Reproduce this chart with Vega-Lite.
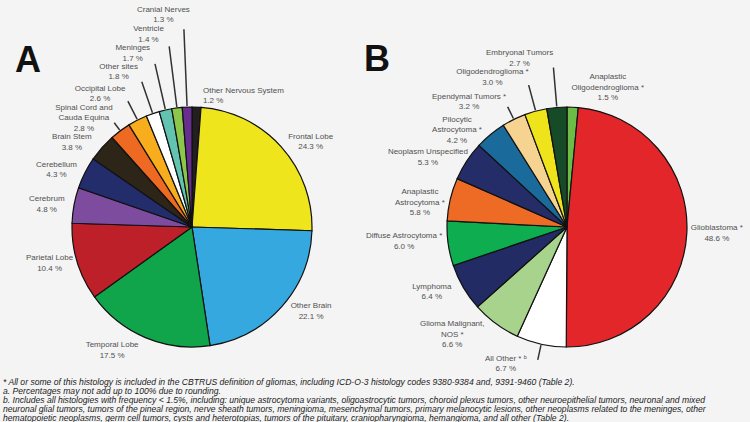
{
  "$schema": "https://vega.github.io/schema/vega-lite/v6.json",
  "background": "#f4f4f4",
  "padding": 0,
  "spacing": 0,
  "bounds": "flush",
  "config": {
    "view": {"stroke": null},
    "font": "Liberation Sans",
    "text": {"fontSize": 8, "lineHeight": 10.5, "lineBreak": "\n", "fill": "#505050", "baseline": "middle", "align": "center", "font": "Liberation Sans"}
  },
  "title": {
    "text": [
      "* All or some of this histology is included in the CBTRUS definition of gliomas, including ICD-O-3 histology codes 9380-9384 and, 9391-9460 (Table 2).",
      "a. Percentages may not add up to 100% due to rounding.",
      "b. Includes all histologies with frequency < 1.5%, including: unique astrocytoma variants, oligoastrocytic tumors, choroid plexus tumors, other neuroepithelial tumors, neuronal and mixed",
      "neuronal glial tumors, tumors of the pineal region, nerve sheath tumors, meningioma, mesenchymal tumors, primary melanocytic lesions, other neoplasms related to the meninges, other",
      "hematopoietic  neoplasms, germ cell tumors, cysts and heterotopias, tumors of the pituitary, craniopharyngioma, hemangioma, and all other (Table 2)."
    ],
    "orient": "bottom",
    "anchor": "start",
    "offset": -1.5,
    "dx": 3,
    "font": "Liberation Sans",
    "fontSize": 8.6,
    "fontStyle": "italic",
    "fontWeight": "normal",
    "color": "#222222",
    "lineHeight": 9
  },
  "resolve": {"scale": {"color": "independent", "theta": "independent", "radius": "independent"}},
  "hconcat": [
    {
      "width": 384,
      "height": 304,
      "title": {"text": "A", "anchor": "start", "frame": "group", "fontSize": 36, "fontWeight": "bold", "color": "#111111", "dx": 15, "offset": -80, "font": "Liberation Sans"},
      "data": {"values": [
        {"site": "Other Nervous System", "pct": 1.2, "label": "Other Nervous System\n1.2 %"},
        {"site": "Frontal Lobe", "pct": 24.3, "label": "Frontal Lobe\n24.3 %"},
        {"site": "Other Brain", "pct": 22.1, "label": "Other Brain\n22.1 %"},
        {"site": "Temporal Lobe", "pct": 17.5, "label": "Temporal Lobe\n17.5 %"},
        {"site": "Parietal Lobe", "pct": 10.4, "label": "Parietal Lobe\n10.4 %"},
        {"site": "Cerebrum", "pct": 4.8, "label": "Cerebrum\n4.8 %"},
        {"site": "Cerebellum", "pct": 4.3, "label": "Cerebellum\n4.3 %"},
        {"site": "Brain Stem", "pct": 3.8, "label": "Brain Stem\n3.8 %"},
        {"site": "Spinal Cord and Cauda Equina", "pct": 2.8, "label": "Spinal Cord and\nCauda Equina\n2.8 %"},
        {"site": "Occipital Lobe", "pct": 2.6, "label": "Occipital Lobe\n2.6 %"},
        {"site": "Other sites", "pct": 1.8, "label": "Other sites\n1.8 %"},
        {"site": "Meninges", "pct": 1.7, "label": "Meninges\n1.7 %"},
        {"site": "Ventricle", "pct": 1.4, "label": "Ventricle\n1.4 %"},
        {"site": "Cranial Nerves", "pct": 1.3, "label": "Cranial Nerves\n1.3 %"}
      ]},
      "transform": [
        {"window": [{"op": "row_number", "as": "idx"}]},
        {"stack": "pct", "groupby": [], "sort": [{"field": "idx", "order": "ascending"}], "as": ["t0", "t1"]}
      ],
      "resolve": {"scale": {"theta": "independent", "radius": "independent"}},
      "layer": [
        {
          "mark": {"type": "arc", "outerRadius": 120, "stroke": "#111111", "strokeWidth": 1.2},
          "encoding": {
            "theta": {"field": "pct", "type": "quantitative", "stack": true, "scale": {"domain": [0, 100]}},
            "order": {"field": "idx", "type": "quantitative"},
            "color": {"field": "site", "type": "nominal", "legend": null, "scale": {
              "domain": ["Other Nervous System", "Frontal Lobe", "Other Brain", "Temporal Lobe", "Parietal Lobe", "Cerebrum", "Cerebellum", "Brain Stem", "Spinal Cord and Cauda Equina", "Occipital Lobe", "Other sites", "Meninges", "Ventricle", "Cranial Nerves"],
              "range": ["#231f20", "#efe51c", "#34a8df", "#10a54a", "#bd2029", "#7d4c9f", "#242d6c", "#2c2518", "#ee6a23", "#f8ae1c", "#ffffff", "#62c3b0", "#8cc74c", "#672e8f"]
            }}
          }
        },
        {
          "mark": {"type": "text", "radius": 146, "dy": -5.25},
          "encoding": {
            "theta": {"field": "pct", "type": "quantitative", "stack": true, "scale": {"domain": [0, 100], "range": [0.235619, 5.576327]}},
            "order": {"field": "idx", "type": "quantitative"},
            "text": {"condition": {"test": "datum.idx == 2 || datum.idx == 3", "field": "label", "type": "nominal"}, "value": ""}
          }
        },
        {
          "mark": {"type": "text", "radius": 147, "dy": -5.25},
          "encoding": {
            "theta": {"field": "pct", "type": "quantitative", "stack": true, "scale": {"domain": [0, 100], "range": [0.706858, 6.047566]}},
            "order": {"field": "idx", "type": "quantitative"},
            "text": {"condition": {"test": "datum.idx >= 4 && datum.idx <= 8", "field": "label", "type": "nominal"}, "value": ""}
          }
        },
        {
          "mark": {"type": "text", "dy": -5.25},
          "encoding": {
            "theta": {"field": "t0", "type": "quantitative", "stack": null, "scale": {"domain": [0, 100], "range": [-0.0523599, 6.230825]}},
            "radius": {"field": "idx", "type": "quantitative", "scale": {"type": "pow", "exponent": 3, "zero": false, "domain": [9, 14], "range": [153.5, 214]}},
            "text": {"condition": {"test": "datum.idx >= 10", "field": "label", "type": "nominal"}, "value": ""}
          }
        },
        {
          "mark": {"type": "text", "dy": -10.5},
          "encoding": {
            "theta": {"field": "t0", "type": "quantitative", "stack": null, "scale": {"domain": [0, 100], "range": [-0.0523599, 6.230825]}},
            "radius": {"field": "idx", "type": "quantitative", "scale": {"type": "pow", "exponent": 3, "zero": false, "domain": [9, 14], "range": [153.5, 214]}},
            "text": {"condition": {"test": "datum.idx == 9", "field": "label", "type": "nominal"}, "value": ""}
          }
        },
        {
          "mark": {"type": "arc", "innerRadius": 121, "padAngle": 2, "filled": false, "stroke": "#333333", "strokeWidth": 1.5},
          "encoding": {
            "theta": {"field": "t0", "type": "quantitative", "stack": null, "scale": {"domain": [0, 100]}},
            "theta2": {"field": "t1"},
            "radius": {"field": "idx", "type": "quantitative", "scale": {"type": "pow", "exponent": 2, "zero": false, "domain": [9, 14], "range": [130, 198]}},
            "opacity": {"condition": {"test": "datum.idx >= 9", "value": 1}, "value": 0}
          }
        },
        {
          "mark": {"type": "text", "radius": 131, "align": "left", "dx": 6, "dy": -5.25},
          "encoding": {
            "theta": {"field": "pct", "type": "quantitative", "stack": true, "scale": {"domain": [0, 100]}},
            "order": {"field": "idx", "type": "quantitative"},
            "text": {"condition": {"test": "datum.idx == 1", "field": "label", "type": "nominal"}, "value": ""}
          }
        }
      ]
    },
    {
      "width": 366,
      "height": 304,
      "title": {"text": "B", "anchor": "start", "frame": "group", "fontSize": 36, "fontWeight": "bold", "color": "#111111", "dx": -20, "offset": -32, "font": "Liberation Sans"},
      "data": {"values": [
        {"histology": "Anaplastic Oligodendroglioma", "pct": 1.5, "label": "Anaplastic\nOligodendroglioma  *\n1.5 %"},
        {"histology": "Glioblastoma", "pct": 48.6, "label": "Glioblastoma *\n48.6 %"},
        {"histology": "All Other", "pct": 6.7, "label": "All Other * ᵇ\n6.7 %"},
        {"histology": "Glioma Malignant, NOS", "pct": 6.6, "label": "Glioma Malignant,\nNOS *\n6.6 %"},
        {"histology": "Lymphoma", "pct": 6.4, "label": "Lymphoma\n6.4 %"},
        {"histology": "Diffuse Astrocytoma", "pct": 6.0, "label": "Diffuse Astrocytoma *\n6.0 %"},
        {"histology": "Anaplastic Astrocytoma", "pct": 5.8, "label": "Anaplastic\nAstrocytoma *\n5.8 %"},
        {"histology": "Neoplasm Unspecified", "pct": 5.3, "label": "Neoplasm Unspecified\n5.3 %"},
        {"histology": "Pilocytic Astrocytoma", "pct": 4.2, "label": "Pilocytic\nAstrocytoma *\n4.2 %"},
        {"histology": "Ependymal Tumors", "pct": 3.2, "label": "Ependymal Tumors *\n3.2 %"},
        {"histology": "Oligodendroglioma", "pct": 3.0, "label": "Oligodendroglioma *\n3.0 %"},
        {"histology": "Embryonal Tumors", "pct": 2.7, "label": "Embryonal Tumors\n2.7 %"}
      ]},
      "transform": [
        {"window": [{"op": "row_number", "as": "idx"}]},
        {"stack": "pct", "groupby": [], "sort": [{"field": "idx", "order": "ascending"}], "as": ["t0", "t1"]}
      ],
      "resolve": {"scale": {"theta": "independent", "radius": "independent"}},
      "layer": [
        {
          "mark": {"type": "arc", "outerRadius": 120, "stroke": "#111111", "strokeWidth": 1.2},
          "encoding": {
            "theta": {"field": "pct", "type": "quantitative", "stack": true, "scale": {"domain": [0, 100]}},
            "order": {"field": "idx", "type": "quantitative"},
            "color": {"field": "histology", "type": "nominal", "legend": null, "scale": {
              "domain": ["Anaplastic Oligodendroglioma", "Glioblastoma", "All Other", "Glioma Malignant, NOS", "Lymphoma", "Diffuse Astrocytoma", "Anaplastic Astrocytoma", "Neoplasm Unspecified", "Pilocytic Astrocytoma", "Ependymal Tumors", "Oligodendroglioma", "Embryonal Tumors"],
              "range": ["#6cbd46", "#e2262a", "#ffffff", "#a8d38c", "#222b63", "#0eae50", "#ee6b25", "#252d69", "#1a6a9c", "#f6d390", "#efe41b", "#174a26"]
            }}
          }
        },
        {
          "mark": {"type": "text", "radius": 150, "dy": -5.25},
          "encoding": {
            "theta": {"field": "pct", "type": "quantitative", "stack": true, "scale": {"domain": [0, 100], "range": [0.235619, 5.576327]}},
            "order": {"field": "idx", "type": "quantitative"},
            "text": {"condition": {"test": "datum.idx <= 2", "field": "label", "type": "nominal"}, "value": ""}
          }
        },
        {
          "mark": {"type": "text", "radius": 150, "dy": -5.25},
          "encoding": {
            "theta": {"field": "pct", "type": "quantitative", "stack": true, "scale": {"domain": [0, 100], "range": [0.706858, 6.047566]}},
            "order": {"field": "idx", "type": "quantitative"},
            "text": {"condition": {"test": "datum.idx == 3 || datum.idx == 5 || datum.idx == 7 || datum.idx == 9", "field": "label", "type": "nominal"}, "value": ""}
          }
        },
        {
          "mark": {"type": "text", "radius": 164, "dy": -20},
          "encoding": {
            "theta": {"field": "pct", "type": "quantitative", "stack": true, "scale": {"domain": [0, 100], "range": [0.706858, 6.047566]}},
            "order": {"field": "idx", "type": "quantitative"},
            "text": {"condition": {"test": "datum.idx == 4", "field": "label", "type": "nominal"}, "value": ""}
          }
        },
        {
          "mark": {"type": "text", "radius": 164, "dy": -10},
          "encoding": {
            "theta": {"field": "pct", "type": "quantitative", "stack": true, "scale": {"domain": [0, 100], "range": [0.706858, 6.047566]}},
            "order": {"field": "idx", "type": "quantitative"},
            "text": {"condition": {"test": "datum.idx == 6", "field": "label", "type": "nominal"}, "value": ""}
          }
        },
        {
          "mark": {"type": "text", "radius": 158, "dy": 0},
          "encoding": {
            "theta": {"field": "pct", "type": "quantitative", "stack": true, "scale": {"domain": [0, 100], "range": [0.706858, 6.047566]}},
            "order": {"field": "idx", "type": "quantitative"},
            "text": {"condition": {"test": "datum.idx == 8", "field": "label", "type": "nominal"}, "value": ""}
          }
        },
        {
          "mark": {"type": "text", "dy": -5.25},
          "encoding": {
            "theta": {"field": "t0", "type": "quantitative", "stack": null, "scale": {"domain": [0, 100], "range": [-0.1047198, 6.178466]}},
            "radius": {"field": "idx", "type": "quantitative", "scale": {"zero": false, "domain": [10, 12], "range": [159, 175]}},
            "text": {"condition": {"test": "datum.idx >= 10", "field": "label", "type": "nominal"}, "value": ""}
          }
        },
        {
          "mark": {"type": "arc", "innerRadius": 121, "padAngle": 2, "filled": false, "stroke": "#333333", "strokeWidth": 1.5},
          "encoding": {
            "theta": {"field": "t0", "type": "quantitative", "stack": null, "scale": {"domain": [0, 100]}},
            "theta2": {"field": "t1"},
            "radius": {"field": "idx", "type": "quantitative", "scale": {"type": "linear", "zero": false, "domain": [10, 12], "range": [134, 160]}},
            "opacity": {"condition": {"test": "datum.idx >= 10", "value": 1}, "value": 0}
          }
        },
        {
          "mark": {"type": "arc", "innerRadius": 121, "outerRadius": 136, "padAngle": 2, "filled": false, "stroke": "#333333", "strokeWidth": 1.5},
          "encoding": {
            "theta": {"field": "t0", "type": "quantitative", "stack": null, "scale": {"domain": [0, 100]}},
            "theta2": {"field": "t1"},
            "opacity": {"condition": {"test": "datum.idx == 3", "value": 1}, "value": 0}
          }
        }
      ]
    }
  ]
}
